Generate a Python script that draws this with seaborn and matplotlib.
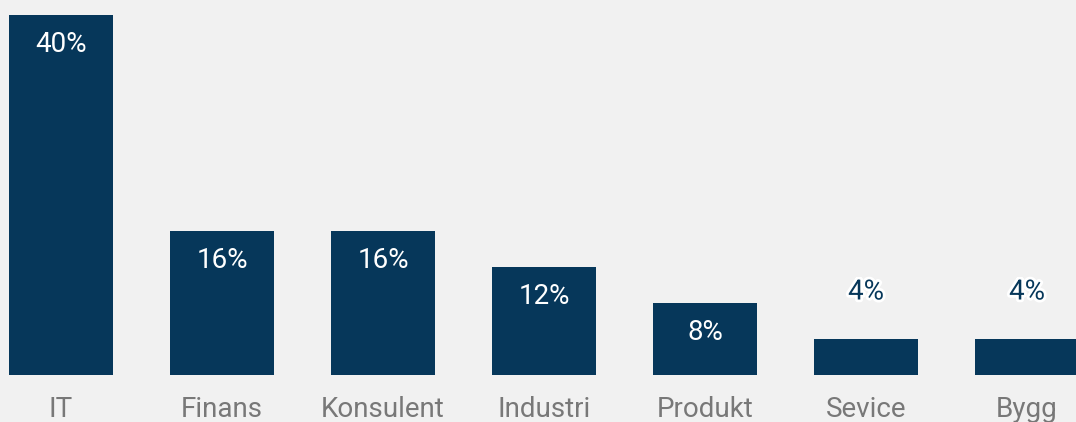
import matplotlib
matplotlib.use("Agg")
import matplotlib.pyplot as plt
import matplotlib.patheffects as pe
import seaborn as sns
import pandas as pd

categories = ["IT", "Finans", "Konsulent", "Industri", "Produkt", "Sevice", "Bygg"]
shares = [40, 16, 16, 12, 8, 4, 4]

bar_color = "#06375a"
bg_color = "#f1f1f1"

sns.set_style("white")
plt.rcParams["font.family"] = ["Roboto", "DejaVu Sans"]

df = pd.DataFrame({"category": categories, "share": shares})

fig = plt.figure(figsize=(10.76, 4.22), dpi=100, facecolor=bg_color)
ax = fig.add_axes([0, 47 / 422, 1, 360 / 422])
ax.set_facecolor(bg_color)

sns.barplot(data=df, x="category", y="share", color=bar_color,
            saturation=1, width=0.646, linewidth=0, ax=ax)

ax.set_xlim(-0.379, 6.304)
ax.set_ylim(0, 40)
ax.set_xlabel("")
ax.set_ylabel("")
ax.set_yticks([])
ax.tick_params(axis="x", length=0, pad=15, labelsize=20, labelcolor="#787878")
sns.despine(ax=ax, left=True, bottom=True)

for i, v in enumerate(shares):
    if v >= 8:
        ax.text(i, v - 29 / 9, f"{v}%", ha="center", va="center",
                color="white", fontsize=20)
    else:
        ax.text(i, v + 47 / 9, f"{v}%", ha="center", va="center",
                color=bar_color, fontsize=20,
                path_effects=[pe.withStroke(linewidth=4, foreground="white")])

fig.savefig("out.png", dpi=100, facecolor=bg_color)
